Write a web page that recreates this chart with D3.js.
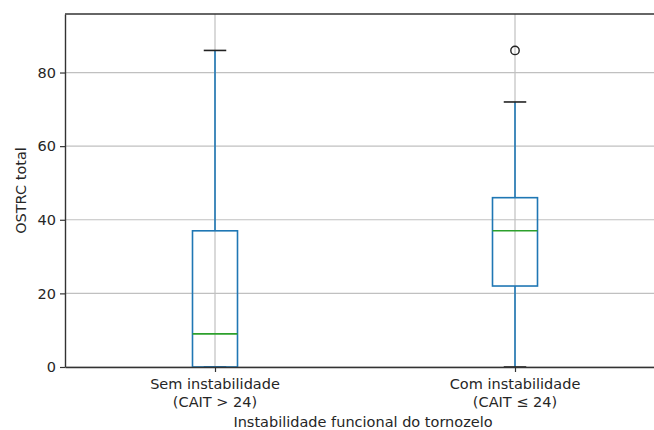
<!DOCTYPE html>
<html>
<head>
<meta charset="utf-8">
<script src="https://cdn.jsdelivr.net/npm/d3@7"></script>
<style>
  body { margin: 0; background: #fff; }
  text { font-family: "DejaVu Sans", sans-serif; fill: #262626; }
</style>
</head>
<body>
<svg id="chart" width="654" height="430"></svg>
<script>
// box summaries
const groups = ['Sem instabilidade\n(CAIT > 24)', 'Com instabilidade\n(CAIT \u2264 24)'];
const whiskerLow = [0, 0];
const q1 = [0, 22];
const median = [9, 37];
const q3 = [37, 46];
const whiskerHigh = [86, 72];
const fliers = [[], [86]];
const yTicks = [0, 20, 40, 60, 80];

const margin = { top: 14, left: 65, bottom: 63 };
const svg = d3.select('#chart');
const height = 430 - margin.top - margin.bottom;
const width = 600; // right side is cut off by the frame
const fs = 14.5;

const x = d3.scaleLinear().domain([0.5, 2.5]).range([0, width]);
const y = d3.scaleLinear().domain([0, 95.9]).range([height, 0]);

const g = svg.append('g').attr('transform', `translate(${margin.left},${margin.top})`);

// grid
g.append('g').selectAll('line').data(yTicks).join('line')
  .attr('x1', 0).attr('x2', width)
  .attr('y1', d => y(d)).attr('y2', d => y(d))
  .attr('stroke', '#c0c0c0').attr('stroke-width', 1.2);
g.append('g').selectAll('line').data(groups).join('line')
  .attr('x1', (d, i) => x(i + 1)).attr('x2', (d, i) => x(i + 1))
  .attr('y1', 0).attr('y2', height)
  .attr('stroke', '#c0c0c0').attr('stroke-width', 1.2);

const boxW = 0.15, capW = 0.075;
const blue = '#1f77b4';

groups.forEach((name, i) => {
  const p = i + 1;
  const b = g.append('g');
  // whiskers
  b.append('line').attr('x1', x(p)).attr('x2', x(p))
    .attr('y1', y(q3[i])).attr('y2', y(whiskerHigh[i]))
    .attr('stroke', blue).attr('stroke-width', 1.6);
  b.append('line').attr('x1', x(p)).attr('x2', x(p))
    .attr('y1', y(q1[i])).attr('y2', y(whiskerLow[i]))
    .attr('stroke', blue).attr('stroke-width', 1.6);
  // caps
  [whiskerLow[i], whiskerHigh[i]].forEach(v => {
    b.append('line').attr('x1', x(p - capW / 2)).attr('x2', x(p + capW / 2))
      .attr('y1', y(v)).attr('y2', y(v))
      .attr('stroke', '#222').attr('stroke-width', 1.6);
  });
  // box
  b.append('rect')
    .attr('x', x(p - boxW / 2)).attr('width', x(p + boxW / 2) - x(p - boxW / 2))
    .attr('y', y(q3[i])).attr('height', y(q1[i]) - y(q3[i]))
    .attr('fill', 'none').attr('stroke', blue).attr('stroke-width', 1.6);
  // median
  b.append('line').attr('x1', x(p - boxW / 2)).attr('x2', x(p + boxW / 2))
    .attr('y1', y(median[i])).attr('y2', y(median[i]))
    .attr('stroke', '#2ca02c').attr('stroke-width', 1.6);
  // outliers
  b.selectAll('circle').data(fliers[i]).join('circle')
    .attr('cx', x(p)).attr('cy', d => y(d)).attr('r', 4.2)
    .attr('fill', 'none').attr('stroke', '#222').attr('stroke-width', 1.4);
});

// axes
const yAxis = g.append('g')
  .call(d3.axisLeft(y).tickValues(yTicks).tickSize(5).tickSizeOuter(0).tickPadding(4));
const xAxis = g.append('g').attr('transform', `translate(0,${height})`)
  .call(d3.axisBottom(x).tickValues([1, 2]).tickSize(5).tickSizeOuter(0).tickFormat(''));
[yAxis, xAxis].forEach(a => {
  a.select('.domain').attr('stroke', '#333').attr('stroke-width', 1.4);
  a.selectAll('.tick line').attr('stroke', '#333').attr('stroke-width', 1.2);
  a.selectAll('.tick text').attr('font-size', fs).attr('fill', '#262626')
    .attr('font-family', '"DejaVu Sans", sans-serif');
});
// top spine
g.append('line').attr('x1', 0).attr('x2', width).attr('y1', 0).attr('y2', 0)
  .attr('stroke', '#333').attr('stroke-width', 1.4);

// x tick labels (two lines)
groups.forEach((name, i) => {
  const t = g.append('text').attr('text-anchor', 'middle').attr('font-size', fs)
    .attr('transform', `translate(${x(i + 1)},${height + 22})`);
  name.split('\n').forEach((line, k) => {
    t.append('tspan').attr('x', 0).attr('dy', k === 0 ? 0 : 18).text(line);
  });
});

// axis titles
g.append('text').attr('text-anchor', 'middle').attr('font-size', fs)
  .attr('x', x(1.5) - 2).attr('y', height + 60)
  .text('Instabilidade funcional do tornozelo');
g.append('text').attr('text-anchor', 'middle').attr('font-size', fs)
  .attr('transform', `translate(${26 - margin.left},${height / 2}) rotate(-90)`)
  .text('OSTRC total');
</script>
</body>
</html>
